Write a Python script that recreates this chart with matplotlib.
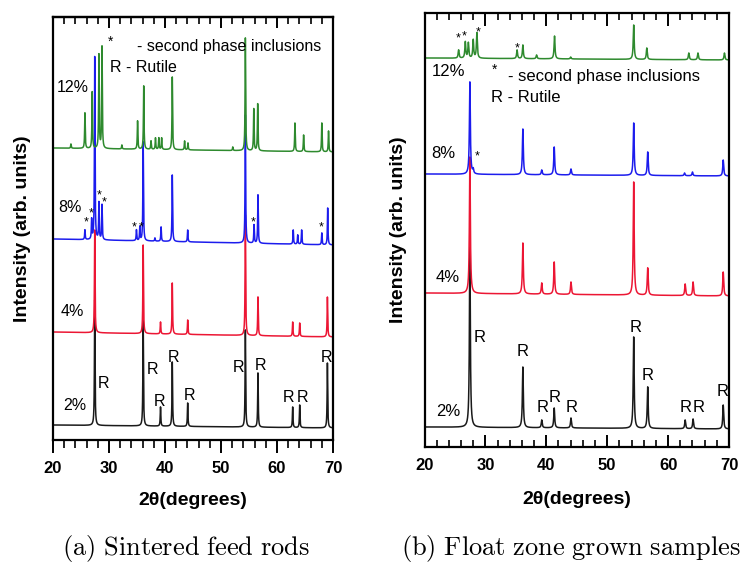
import numpy as np
import matplotlib.pyplot as plt
from matplotlib.ticker import MultipleLocator

plt.rcParams['font.family'] = ['Liberation Sans', 'DejaVu Sans']
plt.rcParams['mathtext.fontset'] = 'cm'

# ---- data (peak position in 2theta, peak top in arb. units)
# (a) sintered feed rods
a2_pos = [27.45, 36.1, 39.2, 41.3, 44.05, 54.35, 56.6, 62.8, 64.05, 69.0]
a2_top = [140, 120, 33, 78, 37, 110, 67, 33, 35, 77]
a2_base = [15, 12]

a4_pos = [27.45, 36.1, 39.2, 41.3, 44.05, 54.35, 56.6, 62.8, 64.05, 69.0]
a4_top = [210, 195, 118, 157, 120, 225, 143, 118, 117, 143]
a4_base = [108, 103]

a8_pos = [25.7, 26.9, 27.45, 28.2, 28.75, 34.9, 35.5, 36.1, 38.2, 39.3, 41.3,
          44.05, 54.35, 55.9, 56.6, 62.9, 63.7, 64.4, 68.0, 69.05]
a8_top = [210, 220, 383, 237, 235, 210, 213, 298, 202, 213, 265,
          210, 325, 215, 245, 210, 205, 210, 207, 232]
a8_base = [201, 195]

a12_pos = [23.2, 25.7, 27.0, 28.2, 28.75, 32.3, 35.1, 36.2, 37.5, 38.3, 38.9, 39.4,
           41.3, 43.5, 44.1, 52.1, 54.35, 55.85, 56.55, 63.2, 64.75, 68.0, 69.2]
a12_top = [296, 327, 348, 385, 393, 295, 319, 354, 299, 302, 302, 302,
           363, 299, 297, 293, 402, 331, 336, 317, 305, 317, 309]
a12_base = [292, 288]

a_star_x = [25.9, 26.8, 28.2, 29.1, 34.5, 35.7, 55.7, 67.9]
a_star_y = [218, 227, 245, 238, 213, 213, 218, 213]
a_r_x = [28.93, 37.68, 39.1, 41.43, 44.29, 53.04, 57.14, 62.14, 64.64, 68.75]
a_r_y = [57, 70, 38, 83, 45, 72, 74, 43, 43, 82]
a_lab_x = [23.9, 23.4, 23.0, 23.6]
a_lab_y = [35, 128, 233, 353]

# (b) float zone grown samples
b2_pos = [27.45, 36.15, 39.25, 41.3, 44.05, 54.35, 56.65, 62.8, 64.1, 69.05]
b2_top = [200, 80, 27, 39, 29, 110, 60, 27, 28, 42]
b2_base = [20, 18]

b4_pos = [27.45, 36.15, 39.25, 41.3, 44.05, 54.35, 56.65, 62.8, 64.1, 69.05]
b4_top = [290, 204, 164, 185, 165, 265, 179, 163, 165, 175]
b4_base = [154, 151]

b8_pos = [27.45, 28.0, 36.15, 39.25, 41.3, 44.05, 54.35, 56.65, 62.7, 64.0, 69.05]
b8_top = [365, 277, 318, 277, 300, 278, 324, 295, 274, 275, 287]
b8_base = [273, 271]

b12_pos = [25.6, 26.7, 27.2, 28.0, 28.6, 35.2, 36.15, 38.4, 41.35, 44.0,
           54.35, 56.5, 63.4, 64.9, 69.25]
b12_top = [397, 405, 404, 407, 414, 397, 402, 392, 411, 390,
           422, 399, 394, 394, 394]
b12_base = [389, 387]

b_star_x = [25.46, 26.5, 28.8, 35.16, 28.6]
b_star_y = [409, 411, 415, 399, 291]
b_r_x = [29.13, 36.15, 39.33, 41.3, 44.21, 54.67, 56.71, 62.85, 64.98, 68.88]
b_r_y = [109, 95, 40, 50, 40, 119, 72, 40, 40, 55]
b_lab_x = [23.87, 23.87, 23.04, 23.87]
b_lab_y = [35, 170, 294, 375]

labels = ['2%', '4%', '8%', '12%']
colors = ['#1a1a1a', '#ec1634', '#1c1ced', '#2e8a2e']

tt = np.arange(20, 70.001, 0.01)


def pattern(pos, top, base, hw):
    y = np.linspace(base[0], base[1], tt.size)
    for p, t in zip(pos, top):
        b = base[0] + (base[1] - base[0]) * (p - 20) / 50
        y = y + (t - b) / (1 + ((tt - p) / hw) ** 2)
    return y


fig = plt.figure(figsize=(7.42, 5.69), dpi=100)
axa = fig.add_axes([53 / 742, 1 - 440 / 569, 280 / 742, 423 / 569])
axb = fig.add_axes([424.5 / 742, 1 - 447 / 569, 304.5 / 742, 434 / 569])

series_a = [(a2_pos, a2_top, a2_base), (a4_pos, a4_top, a4_base),
            (a8_pos, a8_top, a8_base), (a12_pos, a12_top, a12_base)]
series_b = [(b2_pos, b2_top, b2_base), (b4_pos, b4_top, b4_base),
            (b8_pos, b8_top, b8_base), (b12_pos, b12_top, b12_base)]

for (pos, top, base), c in zip(series_a, colors):
    axa.plot(tt, pattern(pos, top, base, 0.06), color=c, lw=1.1)
for (pos, top, base), c in zip(series_b, colors):
    axb.plot(tt, pattern(pos, top, base, 0.09), color=c, lw=1.1)

axa.set_ylim(0, 423)
axb.set_ylim(0, 434)

for ax, out in [(axa, True), (axb, False)]:
    ax.set_xlim(20, 70)
    ax.set_yticks([])
    ax.xaxis.set_major_locator(MultipleLocator(10))
    ax.xaxis.set_minor_locator(MultipleLocator(2))
    for s in ax.spines.values():
        s.set_linewidth(1.6)
    for lab in ax.get_xticklabels():
        lab.set_fontweight('bold')
    if out:
        ax.tick_params(axis='x', which='major', direction='out', length=9, width=1.4,
                       labelsize=12, pad=6, top=False)
        ax.tick_params(axis='x', which='minor', direction='out', length=6, width=1.2, top=False)
        sec = ax.secondary_xaxis('top')
        sec.xaxis.set_major_locator(MultipleLocator(10))
        sec.xaxis.set_minor_locator(MultipleLocator(2))
        sec.tick_params(axis='x', which='major', direction='in', length=8, width=1.4, labeltop=False)
        sec.tick_params(axis='x', which='minor', direction='in', length=5, width=1.2)
        sec.spines['top'].set_linewidth(1.6)
    else:
        ax.tick_params(axis='x', which='major', direction='in', length=9, width=1.4,
                       labelsize=12, pad=8, top=True)
        ax.tick_params(axis='x', which='minor', direction='in', length=5, width=1.2, top=True)
    ax.set_xlabel('2θ(degrees)', fontsize=14, fontweight='bold')
    ax.set_ylabel('Intensity (arb. units)', fontsize=14, fontweight='bold')

axa.xaxis.set_label_coords(0.5, -0.123)
axb.xaxis.set_label_coords(0.5, -0.101)
axa.yaxis.set_label_coords(-0.080, 0.5)
axb.yaxis.set_label_coords(-0.059, 0.5)

# annotations
for x, y in zip(a_r_x, a_r_y):
    axa.text(x, y, 'R', fontsize=11.5, ha='center', va='center')
for x, y in zip(a_star_x, a_star_y):
    axa.text(x, y, '*', fontsize=9, ha='center', va='center')
for x, y, t in zip(a_lab_x, a_lab_y, labels):
    axa.text(x, y, t, fontsize=11.5, ha='center', va='center')
axa.text(30.2, 398, '*', fontsize=10, ha='center', va='center')
axa.text(35.0, 394, '- second phase inclusions', fontsize=11.5, ha='left', va='center')
axa.text(30.2, 373, 'R - Rutile', fontsize=11.5, ha='left', va='center')

for x, y in zip(b_r_x, b_r_y):
    axb.text(x, y, 'R', fontsize=12, ha='center', va='center')
for x, y in zip(b_star_x, b_star_y):
    axb.text(x, y, '*', fontsize=9, ha='center', va='center')
for x, y, t in zip(b_lab_x, b_lab_y, labels):
    axb.text(x, y, t, fontsize=12, ha='center', va='center')
axb.text(31.43, 377, '*', fontsize=10, ha='center', va='center')
axb.text(33.73, 371, '- second phase inclusions', fontsize=12, ha='left', va='center')
axb.text(30.94, 350, 'R - Rutile', fontsize=12, ha='left', va='center')

fig.text(62 / 742, 1 - 549 / 569, r'$\mathrm{(a)\ Sintered\ feed\ rods}$',
         fontsize=19, ha='left', va='center')
fig.text(741 / 742, 1 - 549 / 569, r'$\mathrm{(b)\ Float\ zone\ grown\ samples}$',
         fontsize=19, ha='right', va='center')

fig.savefig('out.png', dpi=100)
